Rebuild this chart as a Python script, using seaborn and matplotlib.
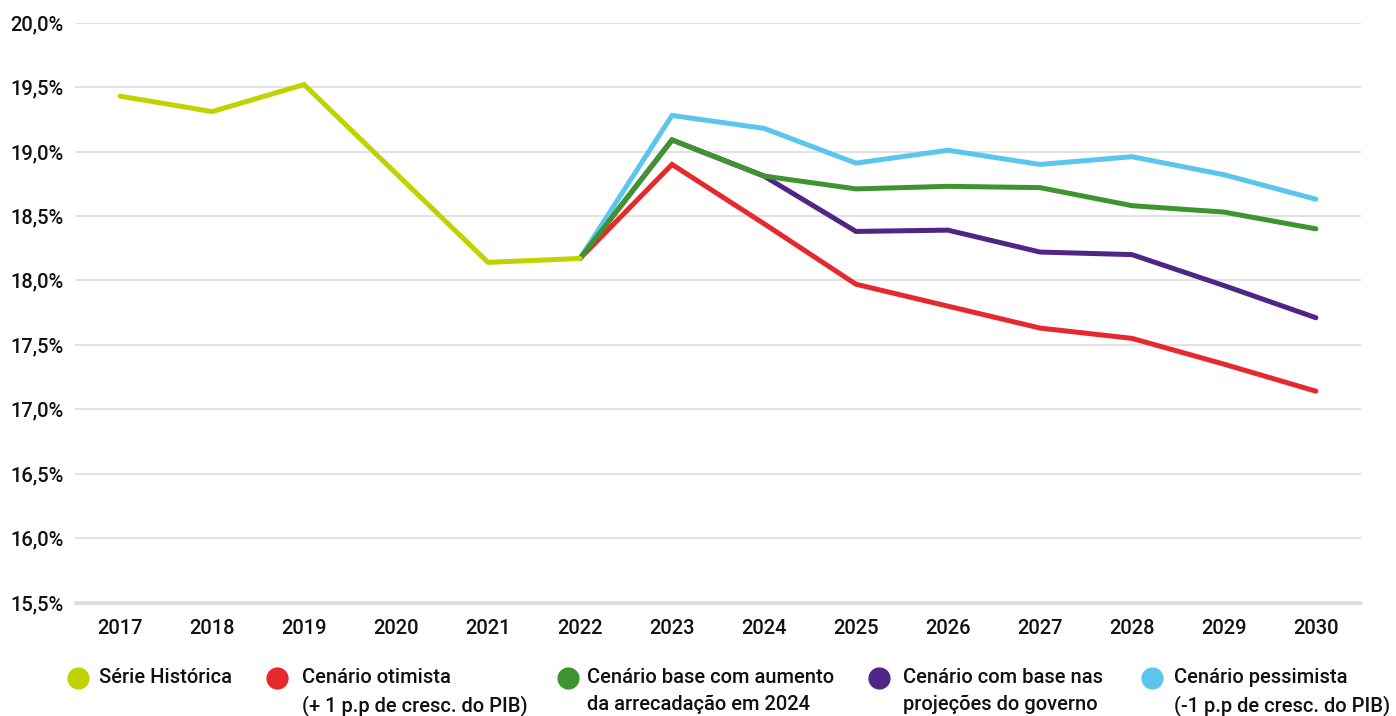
import numpy as np
import pandas as pd
import seaborn as sns
import matplotlib.pyplot as plt
from matplotlib.lines import Line2D
from matplotlib.ticker import FuncFormatter

# Carga tributária (% do PIB): série histórica e cenários até 2030
anos_hist = [2017, 2018, 2019, 2020, 2021, 2022]
serie_historica = [19.43, 19.31, 19.52, 18.83, 18.14, 18.17]

anos_proj = [2022, 2023, 2024, 2025, 2026, 2027, 2028, 2029, 2030]
cenario_otimista = [18.17, 18.90, 18.44, 17.97, 17.80, 17.63, 17.55, 17.35, 17.14]
cenario_base = [18.17, 19.09, 18.81, 18.71, 18.73, 18.72, 18.58, 18.53, 18.40]
cenario_governo = [18.17, 19.09, 18.81, 18.38, 18.39, 18.22, 18.20, 17.96, 17.71]
cenario_pessimista = [18.17, 19.28, 19.18, 18.91, 19.01, 18.90, 18.96, 18.82, 18.63]

rotulos = [
    "Série Histórica",
    "Cenário otimista\n(+ 1 p.p de cresc. do PIB)",
    "Cenário base com aumento\nda arrecadação em 2024",
    "Cenário com base nas\nprojeções do governo",
    "Cenário pessimista\n(-1 p.p de cresc. do PIB)",
]
cores = ["#c2d100", "#e7292e", "#3e952f", "#4f2585", "#5bc5ee"]

sns.set_theme(style="white")
plt.rcParams["font.family"] = ["Roboto", "DejaVu Sans"]

fig = plt.figure(figsize=(13.96, 7.16), dpi=100)
W, H = 1396, 716
ax = fig.add_axes([75 / W, 1 - 602.5 / H, (1361 - 75) / W, (602.5 - 22.7) / H])

lw = 3.6
series = [
    (anos_proj, cenario_governo, cores[3]),
    (anos_proj, cenario_otimista, cores[1]),
    (anos_proj, cenario_pessimista, cores[4]),
    (anos_proj, cenario_base, cores[2]),
    (anos_hist, serie_historica, cores[0]),
]
for x, y, c in series:
    df = pd.DataFrame({"ano": x, "valor": y})
    sns.lineplot(data=df, x="ano", y="valor", color=c, lw=lw, ax=ax,
                 solid_capstyle="round", solid_joinstyle="miter")

ax.set_xlim(2016.51, 2030.49)
ax.set_ylim(15.5, 20.0)
ax.set_xticks(range(2017, 2031))
ax.set_yticks(np.arange(15.5, 20.01, 0.5))
ax.yaxis.set_major_formatter(FuncFormatter(lambda v, p: f"{v:.1f}%".replace(".", ",")))
ax.set_xlabel("")
ax.set_ylabel("")

ax.grid(axis="y", color="#e2e2e2", lw=1.4)
ax.set_axisbelow(True)
for s in ["top", "right", "left"]:
    ax.spines[s].set_visible(False)
ax.spines["bottom"].set_color("#dcdcdc")
ax.spines["bottom"].set_linewidth(2)

fs = 14.5
ax.tick_params(axis="x", length=6, width=1.5, color="#dcdcdc", pad=6,
               labelsize=fs, labelcolor="#111111")
ax.tick_params(axis="y", length=0, pad=8, labelsize=fs, labelcolor="#111111")
for lab in ax.get_xticklabels() + ax.get_yticklabels():
    lab.set_fontweight("medium")

# Legenda em linha, abaixo do eixo
pos_marcador = [78, 277, 568, 879, 1152]
pos_texto = [99, 302, 587, 903, 1174]
for xm, xt, c, r in zip(pos_marcador, pos_texto, cores, rotulos):
    fig.add_artist(Line2D([xm / W], [1 - 678 / H], marker="o", markersize=16,
                          color=c, markeredgewidth=0, transform=fig.transFigure))
    fig.text(xt / W, 1 - 668 / H, r, ha="left", va="top", fontsize=fs,
             fontweight="medium", color="#111111", linespacing=1.5)

fig.savefig("out.png", dpi=100)
